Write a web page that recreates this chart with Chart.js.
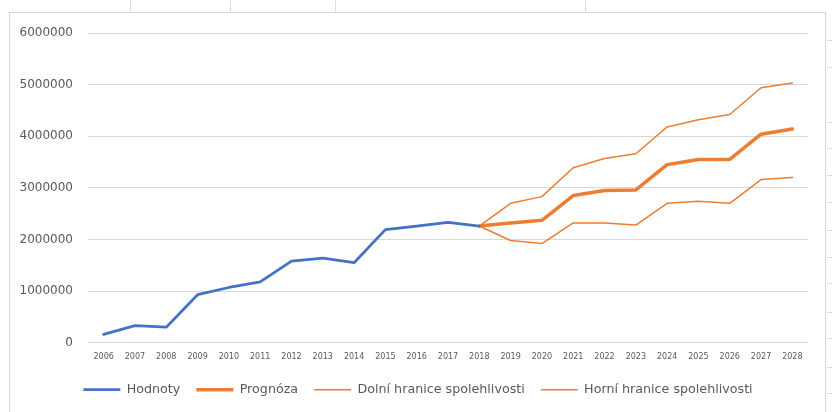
<!DOCTYPE html>
<html>
<head>
<meta charset="utf-8">
<script src="https://cdn.jsdelivr.net/npm/chart.js@4.4.1/dist/chart.umd.min.js"></script>
<style>
  html, body { margin: 0; padding: 0; background: #fff; }
  body { width: 832px; height: 412px; position: relative; overflow: hidden; }
  .cell-v { position: absolute; top: 0; width: 1px; height: 12px; background: #dcdcdc; }
  .cell-h { position: absolute; left: 827px; width: 5px; height: 1px; background: #dcdcdc; }
  #frame { position: absolute; left: 9px; top: 12px; width: 817px; height: 420px;
           border: 1px solid #d6d6d6; box-sizing: border-box; }
  #wrap { position: absolute; left: 10px; top: 13px; width: 816px; height: 399px; }
</style>
</head>
<body>
<div class="cell-v" style="left:130px"></div>
<div class="cell-v" style="left:230px"></div>
<div class="cell-v" style="left:335px"></div>
<div class="cell-v" style="left:585px"></div>
<div class="cell-h" style="top:40px"></div>
<div class="cell-h" style="top:67px"></div>
<div class="cell-h" style="top:122px"></div>
<div class="cell-h" style="top:148px"></div>
<div class="cell-h" style="top:175px"></div>
<div class="cell-h" style="top:202px"></div>
<div class="cell-h" style="top:230px"></div>
<div class="cell-h" style="top:257px"></div>
<div class="cell-h" style="top:283px"></div>
<div class="cell-h" style="top:312px"></div>
<div class="cell-h" style="top:338px"></div>
<div class="cell-h" style="top:367px"></div>
<div class="cell-h" style="top:393px"></div>
<div id="frame"></div>
<div id="wrap"><canvas id="chart"></canvas></div>
<script>
const years = ['2006', '2007', '2008', '2009', '2010', '2011', '2012', '2013', '2014', '2015', '2016', '2017',
  '2018', '2019', '2020', '2021', '2022', '2023', '2024', '2025', '2026', '2027', '2028'];

// 2006 - 2018
const hodnoty = [160000, 330000, 300000, 930000, 1070000, 1180000, 1580000, 1640000, 1550000,
  2190000, 2260000, 2330000, 2260000];

// 2018 - 2028
const prognoza = [2260000, 2320000, 2370000, 2850000, 2950000, 2960000, 3450000, 3550000, 3550000, 4040000, 4140000];
const dolni = [2260000, 1980000, 1920000, 2320000, 2320000, 2280000, 2700000, 2740000, 2700000, 3160000, 3200000];
const horni = [2260000, 2700000, 2830000, 3390000, 3570000, 3660000, 4180000, 4320000, 4420000, 4940000, 5030000];

const yTicks = [0, 1000000, 2000000, 3000000, 4000000, 5000000, 6000000];

// pad series to the full year range
const histPart = arr => arr.concat(new Array(years.length - arr.length).fill(null));
const forecastPart = arr => new Array(years.length - arr.length).fill(null).concat(arr);

const blue = '#4472C4';
const orange = '#ED7D31';
const textGrey = '#595959';

new Chart(document.getElementById('chart'), {
  type: 'line',
  data: {
    labels: years,
    datasets: [
      { label: 'Hodnoty', data: histPart(hodnoty), borderColor: blue, backgroundColor: blue, borderWidth: 2.75 },
      { label: 'Prognóza', data: forecastPart(prognoza), borderColor: orange, backgroundColor: orange, borderWidth: 3.5 },
      { label: 'Dolní hranice spolehlivosti', data: forecastPart(dolni), borderColor: orange, backgroundColor: orange, borderWidth: 1.5 },
      { label: 'Horní hranice spolehlivosti', data: forecastPart(horni), borderColor: orange, backgroundColor: orange, borderWidth: 1.5 }
    ]
  },
  options: {
    responsive: true,
    maintainAspectRatio: false,
    animation: false,
    elements: {
      point: { radius: 0, hoverRadius: 0 },
      line: { tension: 0, borderJoinStyle: 'round', borderCapStyle: 'round' }
    },
    layout: { padding: { left: 0, right: 0, top: 20, bottom: 6 } },
    scales: {
      x: {
        offset: true,
        afterFit: scale => { scale.height += 5; },
        grid: { display: false },
        border: { display: false },
        ticks: { color: textGrey, font: { family: 'DejaVu Sans', size: 8 }, padding: 1, maxRotation: 0, autoSkip: false }
      },
      y: {
        min: 0,
        max: 6000000,
        afterFit: scale => { scale.width = 78; scale.paddingTop = 0; scale.paddingBottom = 0; },
        afterBuildTicks: scale => { scale.ticks = yTicks.map(v => ({ value: v })); },
        grid: { color: '#d9d9d9', lineWidth: 1, drawTicks: false },
        border: { display: false },
        ticks: { color: textGrey, font: { family: 'DejaVu Sans', size: 12 }, padding: 15, callback: v => String(v) }
      },
      // empty right-hand strip so the legend stays centred on the whole chart
      spacer: {
        type: 'linear',
        position: 'right',
        afterFit: scale => { scale.width = 18; scale.paddingTop = 0; scale.paddingBottom = 0; },
        grid: { display: false },
        border: { display: false },
        ticks: { display: false }
      }
    },
    plugins: {
      tooltip: { enabled: false },
      legend: {
        position: 'bottom',
        labels: {
          color: textGrey,
          font: { family: 'DejaVu Sans', size: 12.7 },
          usePointStyle: true,
          pointStyle: 'line',
          pointStyleWidth: 37,
          padding: 16
        }
      }
    }
  }
});
</script>
</body>
</html>
